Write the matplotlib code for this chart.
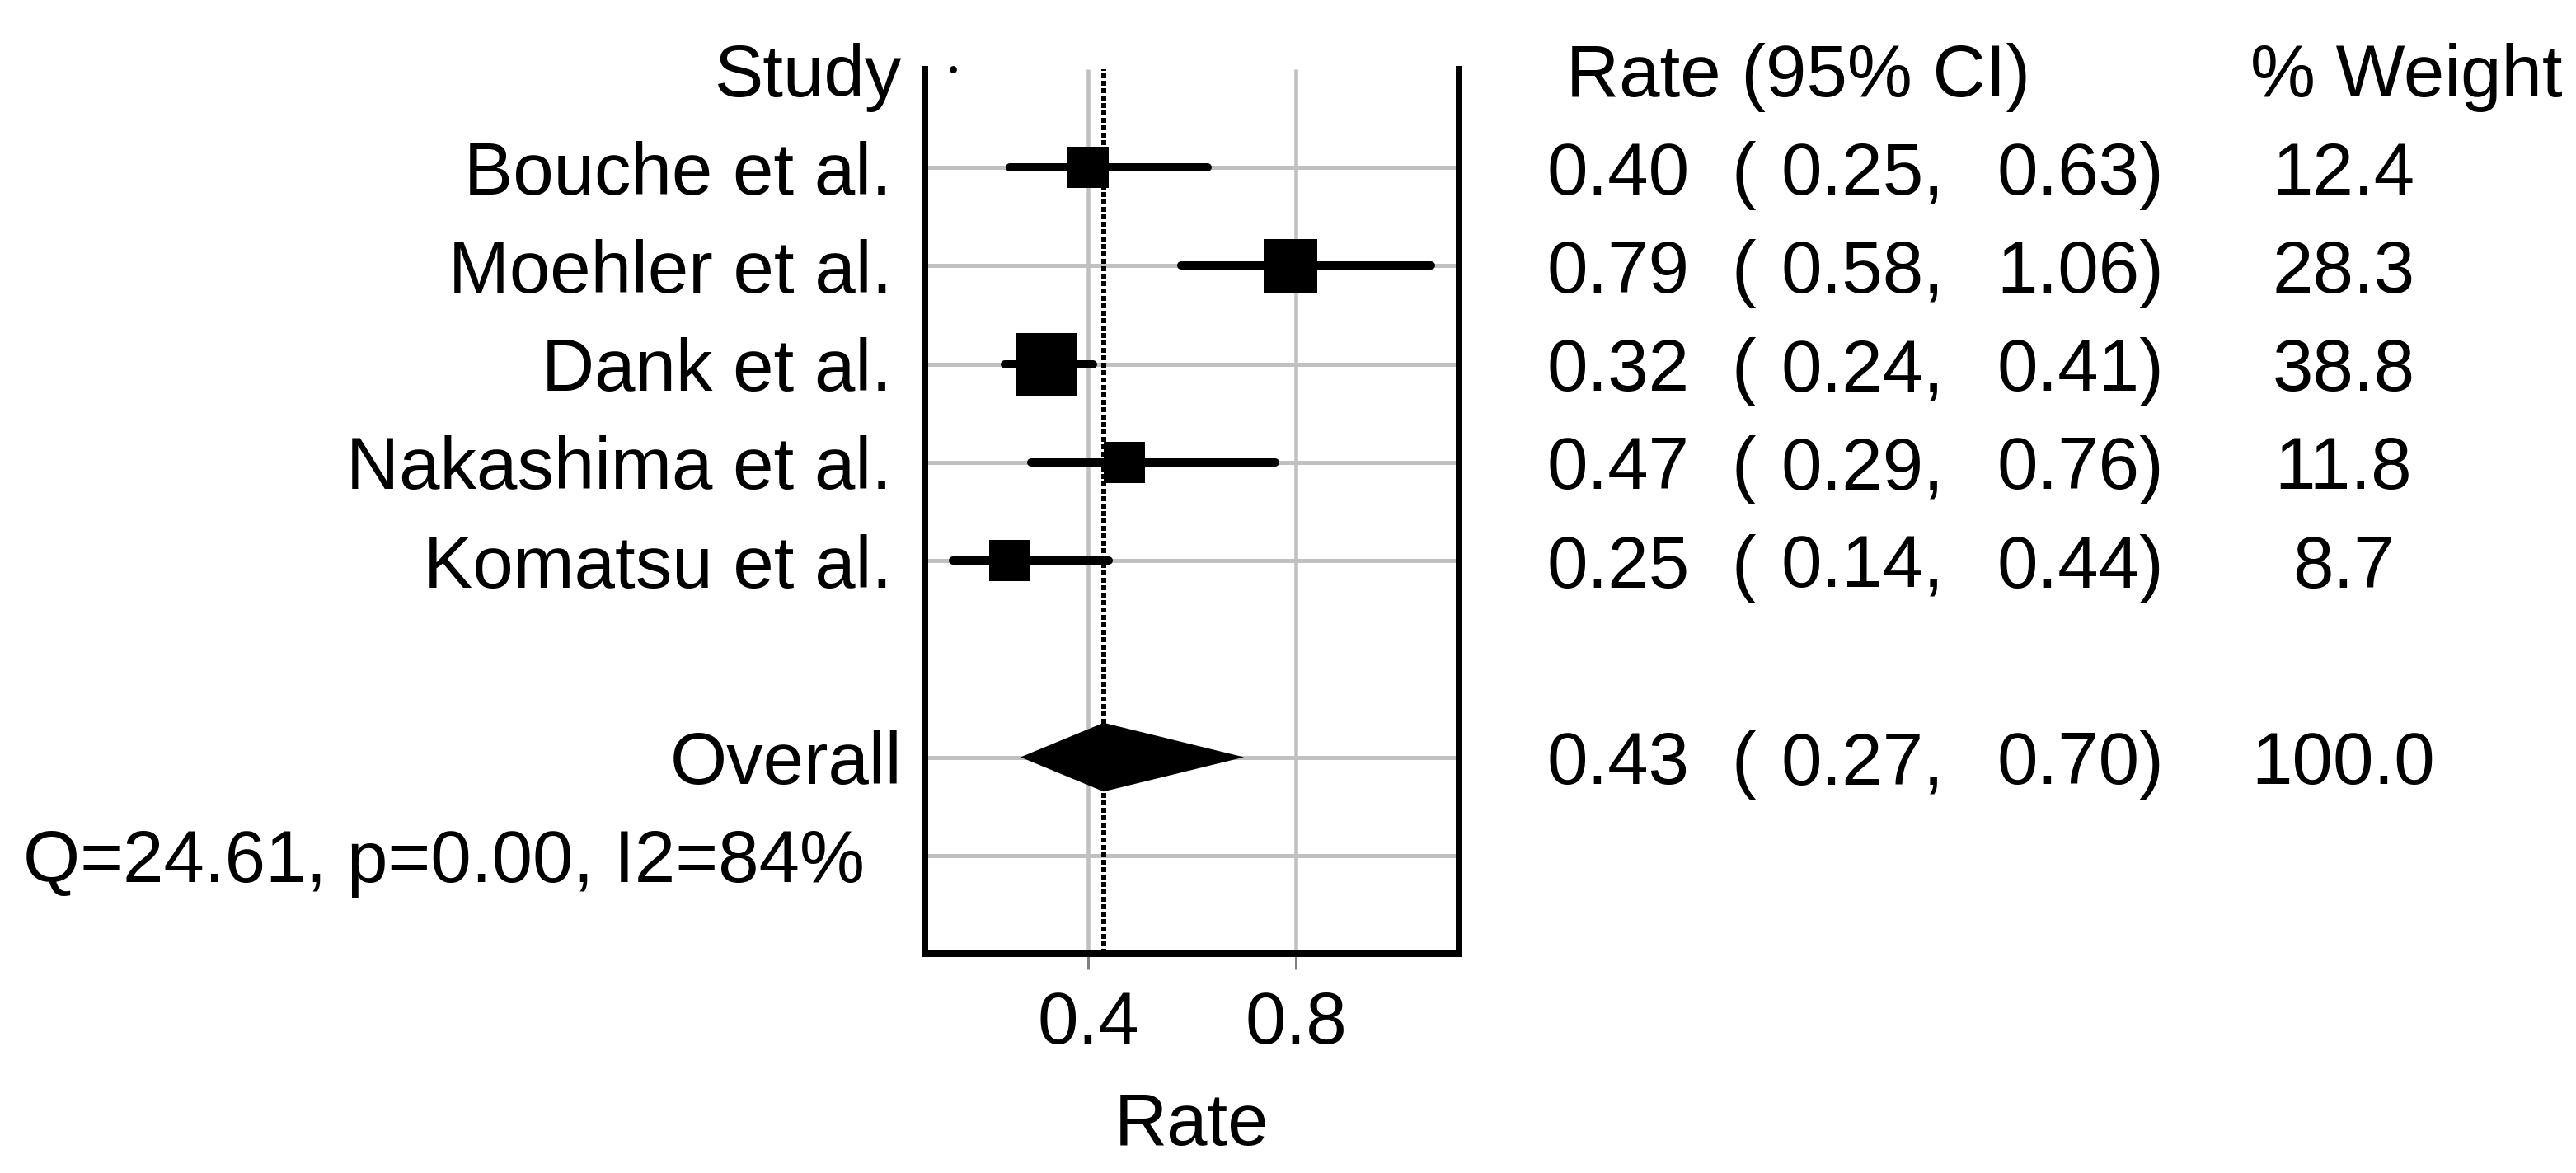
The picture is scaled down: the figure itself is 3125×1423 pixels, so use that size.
import matplotlib
matplotlib.use("Agg")
import matplotlib.pyplot as plt
from matplotlib.patches import Polygon
from matplotlib.transforms import blended_transform_factory
import numpy as np

# study level results
studies = ["Bouche et al.", "Moehler et al.", "Dank et al.", "Nakashima et al.", "Komatsu et al."]
rates = [0.40, 0.79, 0.32, 0.47, 0.25]
ci_low = [0.25, 0.58, 0.24, 0.29, 0.14]
ci_high = [0.63, 1.06, 0.41, 0.76, 0.44]
weights = [12.4, 28.3, 38.8, 11.8, 8.7]

# pooled result
overall_rate = 0.43
overall_low = 0.27
overall_high = 0.70
overall_weight = 100.0
het_text = "Q=24.61, p=0.00, I2=84%"

x_ticks = [0.4, 0.8]
x_ticklabels = ["0.4", "0.8"]

W, H, DPI = 3125, 1423, 200
FS = 32
plt.rcParams['font.family'] = ['Liberation Sans', 'DejaVu Sans']


def px(v):
    # pixels -> points
    return v * 72 / DPI


fig = plt.figure(figsize=(W / DPI, H / DPI), dpi=DPI)
ax = fig.add_axes([1122 / W, 1 - 1157 / H, (1770 - 1122) / W, (1157 - 84) / H])

n = len(studies)
study_rows = np.arange(1, n + 1)
overall_row = n + 2
het_row = n + 3
ax.set_ylim(het_row + 1, 0)
pad = 0.054
x0, x1 = min(ci_low) - pad, max(ci_high) + pad
ax.set_xlim(x0, x1)

grey = "#c0c0c0"
ax.vlines(x_ticks, 0, het_row + 1, color=grey, lw=px(4.5), zorder=0)
ax.hlines(list(study_rows) + [overall_row, het_row], x0, x1, color=grey, lw=px(5), zorder=0)

# pooled estimate line
ax.axvline(overall_rate, color="k", lw=px(6), ls=(0, (1, 0.5)), zorder=2)

# confidence intervals and boxes
ax.hlines(study_rows, ci_low, ci_high, color="k", lw=px(10), capstyle="round", zorder=3)
side = np.maximum(50, 12.2 * np.sqrt(weights))
ax.scatter(rates, study_rows, s=px(side) ** 2, marker="s", c="k", linewidths=0, zorder=4)

diamond = Polygon([(overall_low, overall_row), (overall_rate, overall_row - 0.35),
                   (overall_high, overall_row), (overall_rate, overall_row + 0.35)],
                  closed=True, fc="k", ec="k", lw=0, zorder=4)
ax.add_patch(diamond)

ax.plot(min(ci_low), 0, "o", ms=px(6), color="k", clip_on=False)

for s in ["left", "right", "bottom"]:
    ax.spines[s].set_linewidth(px(8))
ax.spines["top"].set_visible(False)

ax.set_yticks([])
ax.set_xticks(x_ticks)
ax.set_xticklabels(x_ticklabels)
ax.tick_params(axis="x", direction="out", length=px(19), width=px(3), color="#808080",
               pad=9, labelsize=FS)
ax.set_xlabel("Rate", fontsize=FS, labelpad=14)

tr = blended_transform_factory(fig.transFigure, ax.transData)
kw = dict(transform=tr, fontsize=FS, va="center_baseline")

ax.text(1094 / W, 0, "Study", ha="right", **kw)
ax.text(1900 / W, 0, "Rate (95% CI)", ha="left", **kw)
ax.text(2730 / W, 0, "% Weight", ha="left", **kw)

for r, name, est, lo, hi, w in zip(study_rows, studies, rates, ci_low, ci_high, weights):
    ax.text(1082 / W, r, name, ha="right", **kw)
    ax.text(1876 / W, r, f"{est:.2f}", ha="left", **kw)
    ax.text(2100 / W, r, "(", ha="left", **kw)
    ax.text(2160 / W, r, f"{lo:.2f},", ha="left", **kw)
    ax.text(2625 / W, r, f"{hi:.2f})", ha="right", **kw)
    ax.text(2843 / W, r, f"{w:.1f}", ha="center", **kw)

ax.text(1094 / W, overall_row, "Overall", ha="right", **kw)
ax.text(1876 / W, overall_row, f"{overall_rate:.2f}", ha="left", **kw)
ax.text(2100 / W, overall_row, "(", ha="left", **kw)
ax.text(2160 / W, overall_row, f"{overall_low:.2f},", ha="left", **kw)
ax.text(2625 / W, overall_row, f"{overall_high:.2f})", ha="right", **kw)
ax.text(2843 / W, overall_row, f"{overall_weight:.1f}", ha="center", **kw)

ax.text(28 / W, het_row, het_text, ha="left", **kw)

fig.savefig("out.png", dpi=DPI)
